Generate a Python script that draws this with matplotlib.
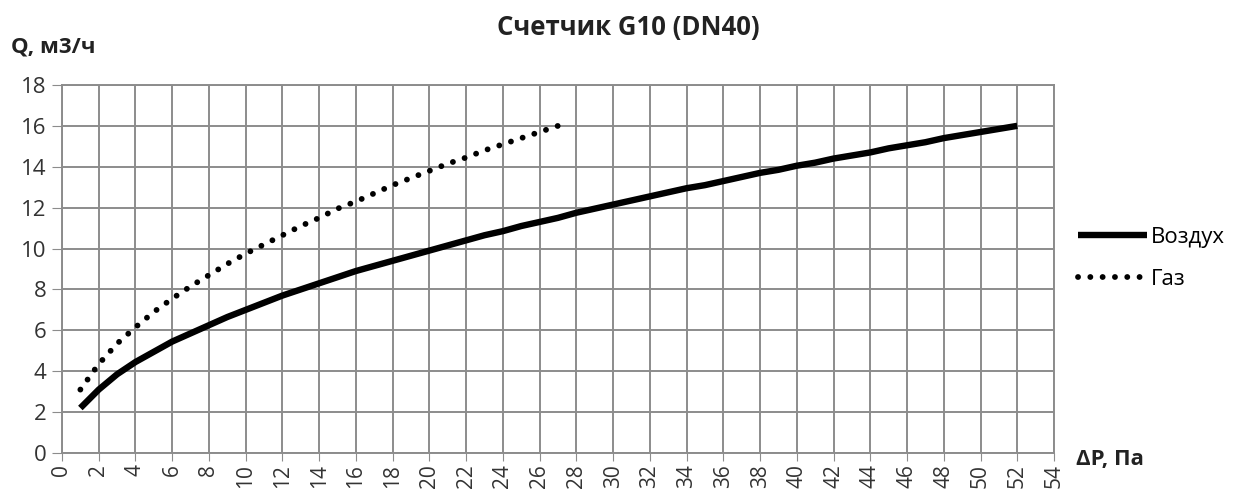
import numpy as np
import matplotlib.pyplot as plt

# данные
dp_vozduh = list(range(1, 53))
q_vozduh = [2.2, 3.1, 3.85, 4.45, 4.95, 5.45, 5.85, 6.25, 6.65, 7.0,
            7.35, 7.7, 8.0, 8.3, 8.6, 8.9, 9.15, 9.4, 9.65, 9.9,
            10.15, 10.4, 10.65, 10.85, 11.1, 11.3, 11.5, 11.75, 11.95, 12.15,
            12.35, 12.55, 12.75, 12.95, 13.1, 13.3, 13.5, 13.7, 13.85, 14.05,
            14.2, 14.4, 14.55, 14.7, 14.9, 15.05, 15.2, 15.4, 15.55, 15.7,
            15.85, 16.0]

dp_gaz = list(range(1, 28))
q_gaz = [3.1, 4.35, 5.35, 6.15, 6.9, 7.55, 8.15, 8.7, 9.25, 9.75,
         10.2, 10.65, 11.1, 11.5, 11.95, 12.3, 12.7, 13.1, 13.45, 13.8,
         14.15, 14.45, 14.8, 15.1, 15.4, 15.7, 16.0]

x_ticks = list(range(0, 55, 2))
y_ticks = list(range(0, 19, 2))

plt.rcParams['font.family'] = ['Open Sans', 'DejaVu Sans']

fig = plt.figure(figsize=(12.5, 4.98), dpi=100)
ax = fig.add_axes([0.0496, 0.0904, 0.7936, 0.739])

ax.plot(dp_vozduh, q_vozduh, color='black', lw=4.6, solid_capstyle='butt', label='Воздух')
ax.plot(dp_gaz, q_gaz, color='black', lw=4.2, linestyle=(0, (0.01, 2.1)),
        dash_capstyle='round', label='Газ')

ax.set_xlim(0, 54)
ax.set_ylim(0, 18)
ax.set_xticks(x_ticks)
ax.set_yticks(y_ticks)
ax.set_xticklabels([str(t) for t in x_ticks], rotation=90, fontsize=15, color='#333333')
ax.set_yticklabels([str(t) for t in y_ticks], fontsize=16, color='#333333')
ax.grid(True, color='#8c8c8c', lw=1.4)
ax.set_axisbelow(True)
for s in ax.spines.values():
    s.set_color('#8c8c8c')
    s.set_linewidth(1.4)
ax.tick_params(axis='x', length=6, color='#8c8c8c', pad=2)
ax.tick_params(axis='y', length=7, color='#8c8c8c', pad=4)

fig.text(0.503, 0.945, 'Счетчик G10 (DN40)', ha='center', va='center',
         fontsize=18.5, fontweight='bold', color='#222222')
fig.text(0.009, 0.905, 'Q, м3/ч', ha='left', va='center',
         fontsize=16, fontweight='bold', color='#222222')
fig.text(0.861, 0.078, 'ΔP, Па', ha='left', va='center',
         fontsize=16, fontweight='bold', color='#222222')

ax.legend(loc='center left', bbox_to_anchor=(1078 / 1250, 0.481),
          bbox_transform=fig.transFigure, frameon=False, borderpad=0,
          borderaxespad=0, fontsize=16, handlelength=3.1, handletextpad=0.2,
          labelspacing=0.95)

fig.savefig('out.png')
